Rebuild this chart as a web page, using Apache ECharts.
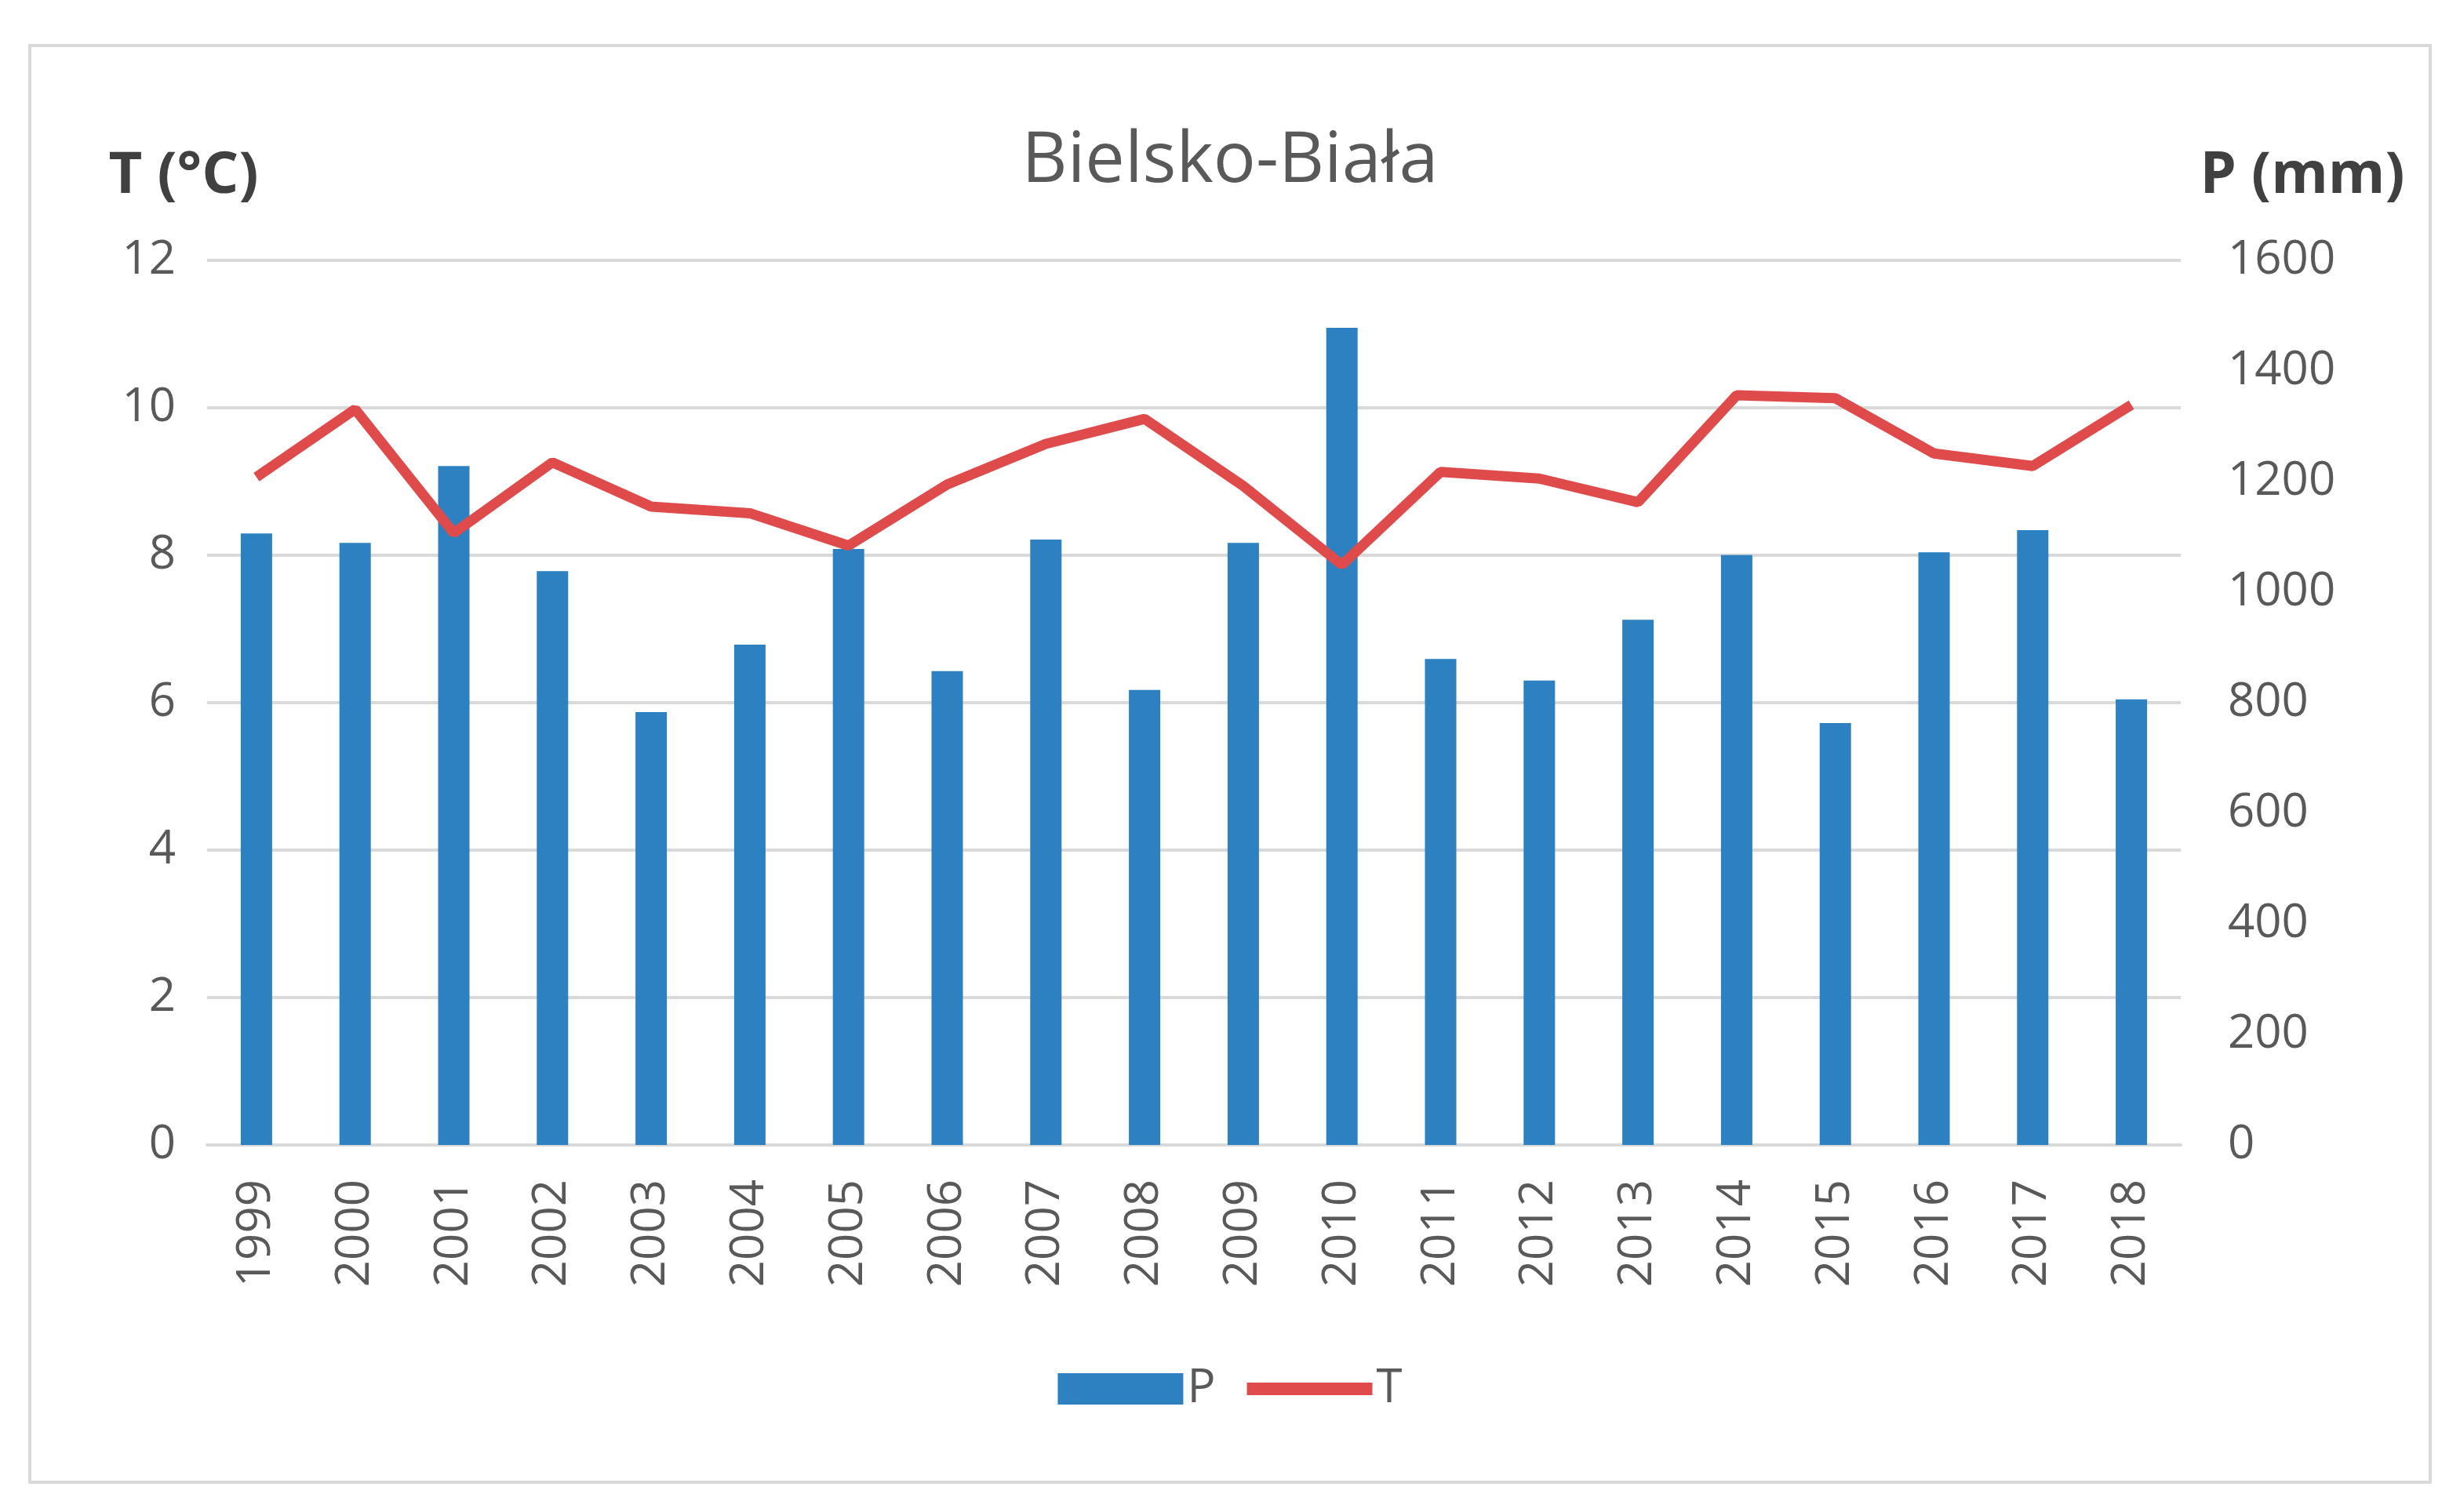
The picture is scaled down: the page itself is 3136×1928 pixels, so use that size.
<!DOCTYPE html>
<html><head><meta charset="utf-8">
<script src="https://cdn.jsdelivr.net/npm/echarts@6/dist/echarts.min.js"></script>
<style>html,body{margin:0;padding:0;background:#fff}#c{width:3136px;height:1928px}
#frame{position:absolute;left:36px;top:56px;width:3064px;height:1836px;border:4px solid #d9d9d9;box-sizing:border-box;pointer-events:none}</style>
</head><body><div id="c"></div><div id="frame"></div>
<script>
const years = ['1999','2000','2001','2002','2003','2004','2005','2006','2007','2008','2009','2010','2011','2012','2013','2014','2015','2016','2017','2018'];
const precip = [1106,1089,1228,1038,783,905,1078,857,1095,823,1089,1478,879,840,950,1067,763,1072,1112,806];
const temp = [9.06,9.98,8.30,9.26,8.66,8.57,8.13,8.96,9.51,9.85,8.94,7.87,9.13,9.04,8.72,10.17,10.13,9.38,9.21,10.04];
const chart = echarts.init(document.getElementById('c'));
const ff = 'Open Sans, Liberation Sans, sans-serif';
chart.setOption({
  textStyle:{fontFamily:ff},
  title:{text:'Bielsko-Biała',left:'center',top:156,textStyle:{fontSize:90,fontWeight:'normal',color:'#595959',fontFamily:ff}},
  legend:{bottom:122,left:'center',itemWidth:160,itemHeight:40,itemGap:40,textStyle:{fontSize:60,color:'#595959'},
    data:[{name:'P',icon:'rect'},{name:'T',icon:'path://M0,0 L10,0 L10,1 L0,1 Z'}]},
  grid:{left:264,right:356,top:332,bottom:468},
  xAxis:{type:'category',data:years,axisTick:{show:false},axisLine:{lineStyle:{color:'#d9d9d9',width:4}},
    axisLabel:{rotate:90,fontSize:60,color:'#595959',margin:44}},
  yAxis:[
    {type:'value',min:0,max:12,interval:2,name:'T (°C)',nameLocation:'end',nameGap:70,
     nameTextStyle:{fontSize:74,fontWeight:'bold',color:'#404040',align:'center',padding:[0,0,0,-60]},
     axisLabel:{fontSize:60,color:'#595959',margin:40},splitLine:{lineStyle:{color:'#d9d9d9',width:4}},axisLine:{show:false},axisTick:{show:false}},
    {type:'value',min:0,max:1600,interval:200,name:'P (mm)',nameLocation:'end',nameGap:70,
     nameTextStyle:{fontSize:74,fontWeight:'bold',color:'#404040',align:'center',padding:[0,0,0,310]},
     axisLabel:{fontSize:60,color:'#595959',margin:60,formatter:v=>String(v)},splitLine:{show:false},axisLine:{show:false},axisTick:{show:false}}
  ],
  series:[
    {name:'P',type:'bar',yAxisIndex:1,data:precip,barWidth:40,itemStyle:{color:'#2e81c1'}},
    {name:'T',type:'line',yAxisIndex:0,data:temp,symbol:'none',lineStyle:{color:'#df4b4b',width:13},itemStyle:{color:'#df4b4b'}}
  ]
});
</script></body></html>
